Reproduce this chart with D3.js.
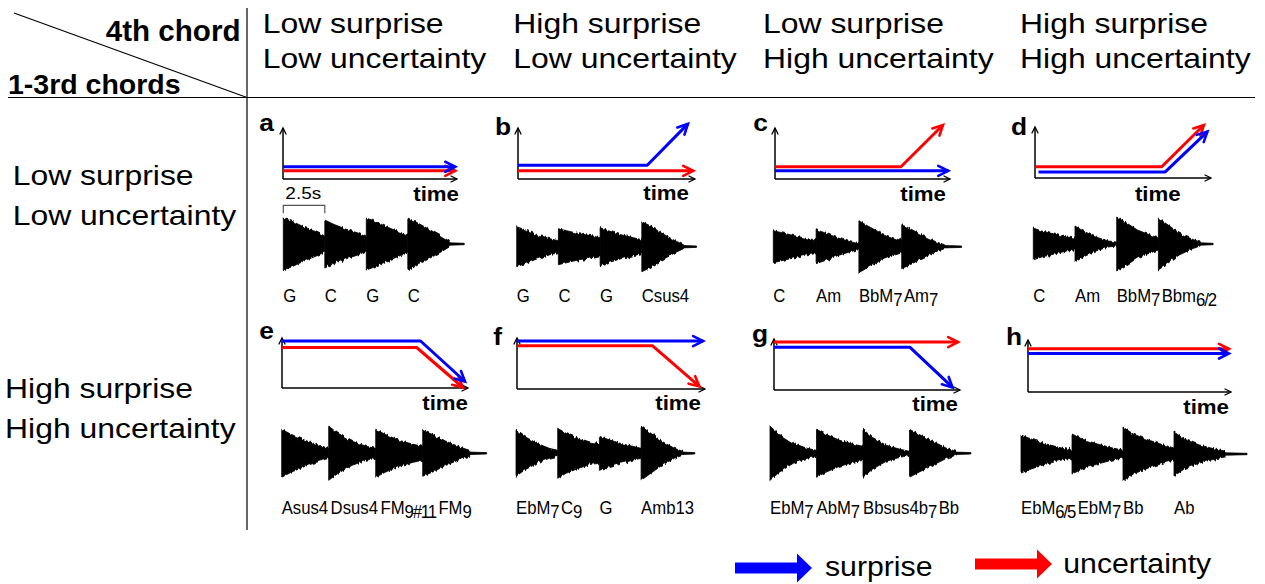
<!DOCTYPE html>
<html><head><meta charset="utf-8">
<script src="https://cdn.jsdelivr.net/npm/d3@7"></script>
<style>
html,body{margin:0;padding:0;background:#fff;}
svg{display:block;font-family:"Liberation Sans",Arial,sans-serif;}
</style></head>
<body><svg id="c" width="1265" height="584"></svg>
<script>
// ================= DATA =================
const panelIds = ["a","b","c","d","e","f","g","h"];
const colHeaders = [["Low surprise","Low uncertainty"],["High surprise","Low uncertainty"],["Low surprise","High uncertainty"],["High surprise","High uncertainty"]];
const rowHeaders = [["Low surprise","Low uncertainty"],["High surprise","High uncertainty"]];
const cornerTop = "4th chord";
const cornerBottom = "1-3rd chords";
const axisLabel = "time";
const chordDuration = 2.5;      // seconds per chord
const bracketLabel = "2.5s";
const legendNames = ["surprise","uncertainty"];

// trajectories: [time fraction of axis, level fraction of axis]
const surprise = [
  [[0,0.24],[0.99,0.24]],
  [[0,0.27],[0.73,0.27],[0.96,1.08]],
  [[0,0.16],[0.99,0.16]],
  [[0.02,0.12],[0.74,0.12],[0.98,0.91]],
  [[0,0.94],[0.745,0.94],[0.984,0.13]],
  [[0,0.94],[0.99,0.94]],
  [[0,0.84],[0.73,0.84],[0.96,0.05]],
  [[0,0.74],[0.99,0.74]]
];
const uncertainty = [
  [[0,0.16],[0.99,0.16]],
  [[0,0.16],[0.99,0.16]],
  [[0,0.24],[0.72,0.24],[0.96,1.06]],
  [[0,0.22],[0.72,0.22],[0.96,1.04]],
  [[0,0.81],[0.724,0.81],[0.973,0.01]],
  [[0,0.85],[0.72,0.85],[0.97,0.05]],
  [[0,0.94],[0.99,0.94]],
  [[0,0.83],[0.99,0.83]]
];

const chordNames = [
  ["G","C","G","C"],
  ["G","C","G","Csus4"],
  ["C","Am","BbM_7","Am_7"],
  ["C","Am","BbM_7","Bbm_6/2"],
  ["Asus4","Dsus4","FM_9#11","FM_9"],
  ["EbM_7","C_9","G","Amb13"],
  ["EbM_7","AbM_7","Bbsus4b_7","Bb"],
  ["EbM_6/5","EbM_7","Bb","Ab"]
];

// waveform envelope (arbitrary amplitude units) sampled at envPos fractions of each chord
const envPos = [0, 0.2, 0.5, 0.8, 1];
const envelopes = [
  [[26,23,17,12,8],[24,20,15,11,7],[26,23,17,12,9],[26,22,15,8,3]],
  [[20,17,12,8,6],[18,16,13,11,9],[19,16,12,9,7],[25,21,13,6,2]],
  [[16,14,11,8,7],[17,14,9,5,3],[26,21,14,9,6],[22,18,11,5,2]],
  [[16,13,10,7,6],[18,13,7,3,2],[27,22,14,9,6],[26,20,11,5,2]],
  [[24,19,13,8,5],[27,20,12,7,5],[24,19,13,9,7],[23,19,12,6,3]],
  [[23,17,10,5,3],[25,20,15,11,10],[17,14,10,7,5],[27,21,12,5,2]],
  [[27,19,10,5,3],[24,19,13,9,7],[24,16,8,4,2],[24,19,12,5,2]],
  [[19,15,10,6,4],[20,15,10,6,4],[27,20,14,9,6],[22,15,9,5,3]]
];
const tailSec = [0.9,0.78,1.0,0.78,0.9,0.72,0.8,1.08];
const tailAmp = [1.2, 0.7];

// ================= LAYOUT =================
const layout = [
  {ax:283, ay:179, ax1:457, atop:128, wx:283.3, wpc:41.5, wy:244,   lx:274,  ly:131, tx:459,   ty:201,   cy:302},
  {ax:518, ay:179, ax1:695, atop:128, wx:516.7, wpc:41.7, wy:246.7, lx:511,  ly:135, tx:689,   ty:200,   cy:302},
  {ax:775, ay:179, ax1:950, atop:128, wx:773.3, wpc:42.8, wy:246.7, lx:768,  ly:131, tx:946,   ty:200.5, cy:302},
  {ax:1035,ay:178, ax1:1211,atop:127, wx:1033.3,wpc:41.7, wy:244,   lx:1027, ly:135, tx:1180.7,ty:200.5, cy:302},
  {ax:282, ay:388, ax1:468, atop:338, wx:281.7, wpc:47,   wy:453.3, lx:274,  ly:339, tx:468,   ty:410,   cy:514},
  {ax:517, ay:389, ax1:705, atop:338, wx:516,   wpc:41.7, wy:453.3, lx:502,  ly:345, tx:701,   ty:410,   cy:514},
  {ax:774, ay:390, ax1:960, atop:339, wx:770,   wpc:46.5, wy:453.3, lx:768,  ly:342, tx:958,   ty:411,   cy:514},
  {ax:1028,ay:392, ax1:1231,atop:340, wx:1021,  wpc:51,   wy:454,   lx:1022, ly:345, tx:1229,  ty:414,   cy:514}
];
const colX = [262.7, 513.3, 763, 1020];
const BLUE = "#0000ff", RED = "#ff0000";

const svg = d3.select("#c");
const defs = svg.append("defs");
function marker(id, color, size, sw){
  defs.append("marker").attr("id", id)
    .attr("viewBox", `0 0 ${size} ${size}`)
    .attr("refX", size - 1).attr("refY", size/2)
    .attr("markerWidth", size).attr("markerHeight", size)
    .attr("markerUnits", "userSpaceOnUse").attr("orient", "auto")
    .style("overflow", "visible")
    .append("path")
    .attr("d", `M1,1 L${size-1},${size/2} L1,${size-1}`)
    .attr("fill", "none").attr("stroke", color).attr("stroke-width", sw)
    .attr("stroke-linecap","round");
}
marker("mb", BLUE, 12, 2.6);
marker("mr", RED, 12, 2.6);
marker("mk", "#000", 8, 1.3);

// rendering texture for the waveform edges (visual only)
const flt = defs.append("filter").attr("id","rough")
  .attr("x","-5%").attr("y","-25%").attr("width","110%").attr("height","150%")
  .attr("color-interpolation-filters","sRGB");
flt.append("feTurbulence").attr("type","fractalNoise").attr("baseFrequency","0.55 0.04")
  .attr("numOctaves",1).attr("seed",7).attr("result","n0");
flt.append("feColorMatrix").attr("in","n0").attr("type","matrix")
  .attr("values","1 0 0 0 0  0 0 0 0 0.5  0 0 0 0 0  0 0 0 0 1").attr("result","n1");
flt.append("feDisplacementMap").attr("in","SourceGraphic").attr("in2","n1")
  .attr("scale",6).attr("xChannelSelector","G").attr("yChannelSelector","R");

function stext(parent, str, x, y, size, sx, opts = {}){
  const t = parent.append("text")
    .attr("transform", `translate(${x},${y}) scale(${sx},1)`)
    .attr("font-size", size)
    .attr("fill", "#000")
    .text(str);
  if (opts.bold) t.attr("font-weight", "bold");
  if (opts.anchor) t.attr("text-anchor", opts.anchor);
  return t;
}

// ---------- table frame ----------
svg.append("line").attr("x1",247).attr("y1",8).attr("x2",247).attr("y2",530).attr("stroke","#000").attr("stroke-width",1.2);
svg.append("line").attr("x1",8).attr("y1",97.5).attr("x2",1255).attr("y2",97.5).attr("stroke","#000").attr("stroke-width",1.2);
svg.append("line").attr("x1",14).attr("y1",13).attr("x2",247).attr("y2",97.5).attr("stroke","#000").attr("stroke-width",1.2);

stext(svg, cornerTop, 240.5, 40.7, 29, 1.02, {bold:true, anchor:"end"});
stext(svg, cornerBottom, 8, 94, 28.5, 1.0, {bold:true});

colHeaders.forEach((h, i) => {
  stext(svg, h[0], colX[i], 33.3, 28.5, 1.12);
  stext(svg, h[1], colX[i], 68.3, 28.5, 1.12);
});
stext(svg, rowHeaders[0][0], 12.7, 185, 28.5, 1.12);
stext(svg, rowHeaders[0][1], 12.7, 225, 28.5, 1.12);
stext(svg, rowHeaders[1][0], 5, 398.3, 28.5, 1.12);
stext(svg, rowHeaders[1][1], 5, 438.3, 28.5, 1.12);

// ---------- panels ----------
panelIds.forEach((id, i) => {
  const L = layout[i];
  const g = svg.append("g");
  const xt = d3.scaleLinear().domain([0,1]).range([L.ax, L.ax1]);
  const yl = d3.scaleLinear().domain([0,1]).range([L.ay, L.atop]);

  // axes
  g.append("path").attr("d", `M${xt(0)},${yl(0)}L${xt(1)},${yl(0)}`)
    .attr("stroke","#000").attr("stroke-width",1.5).attr("fill","none").attr("marker-end","url(#mk)");
  g.append("path").attr("d", `M${xt(0)},${yl(0)}L${xt(0)},${yl(1)}`)
    .attr("stroke","#000").attr("stroke-width",1.5).attr("fill","none").attr("marker-end","url(#mk)");

  const line = d3.line().x(d => xt(d[0])).y(d => yl(d[1]));
  g.append("path").attr("d", line(uncertainty[i])).attr("fill","none")
    .attr("stroke", RED).attr("stroke-width",3).attr("stroke-linejoin","round").attr("marker-end","url(#mr)");
  g.append("path").attr("d", line(surprise[i])).attr("fill","none")
    .attr("stroke", BLUE).attr("stroke-width",3).attr("stroke-linejoin","round").attr("marker-end","url(#mb)");

  // letter + time label
  stext(g, id, L.lx, L.ly, 24, 1.1, {bold:true, anchor:"end"});
  stext(g, axisLabel, L.tx, L.ty, 21, 1.06, {bold:true, anchor:"end"});

  // waveform
  const total = 4 * chordDuration;
  const xw = d3.scaleLinear().domain([0, total]).range([L.wx, L.wx + 4 * L.wpc]);
  const amp = d3.scaleLinear().domain([0, 30]).range([0, 30]);
  const area = d3.area().x(d => xw(d[0])).y0(d => L.wy + amp(d[1])).y1(d => L.wy - amp(d[1]));
  const wg = g.append("g").attr("filter","url(#rough)");
  envelopes[i].forEach((env, k) => {
    const pts = envPos.map((p, j) => [(k + p) * chordDuration, env[j]]);
    wg.append("path").attr("d", area(pts)).attr("fill","#000").attr("stroke","#000").attr("stroke-width",0.8);
  });
  const tail = [[total, tailAmp[0]], [total + tailSec[i], tailAmp[1]]];
  g.append("path").attr("d", area(tail)).attr("fill","#000").attr("stroke","#000").attr("stroke-width",0.8);

  // 2.5 s bracket in panel a
  if (i === 0) {
    const by = 205.3;
    g.append("path").attr("d", `M${xw(0)},${by+8}V${by}H${xw(chordDuration)}V${by+8}`)
      .attr("fill","none").attr("stroke","#555").attr("stroke-width",1.2);
    stext(g, bracketLabel, xw(0) + 2, 199, 17, 1.12);
  }

  // chord labels
  let prevEnd = -Infinity;
  chordNames[i].forEach((name, k) => {
    const sx = 0.88;
    const x = Math.max(xw(k * chordDuration), prevEnd + 2.5);
    const [main, sub] = name.split("_");
    const t = g.append("text").attr("transform", `translate(${x},${L.cy}) scale(${sx},1)`)
      .attr("font-size", 19).attr("fill", "#000");
    t.append("tspan").text(main);
    if (sub) t.append("tspan").attr("dy", 4).attr("letter-spacing", -1.3).text(sub);
    prevEnd = x + t.node().getComputedTextLength() * sx;
  });
});

// ---------- legend ----------
const legendLayout = [
  {x0:735, x1:797, x2:812, cy:568, bh:11, hh:29, tx:825, ty:575.7, color:BLUE},
  {x0:975, x1:1037, x2:1052, cy:564, bh:11, hh:29, tx:1063.3, ty:572.7, color:RED}
];
legendNames.forEach((name, i) => {
  const L = legendLayout[i];
  const pts = [[L.x0, L.cy - L.bh/2],[L.x1, L.cy - L.bh/2],[L.x1, L.cy - L.hh/2],[L.x2, L.cy],
               [L.x1, L.cy + L.hh/2],[L.x1, L.cy + L.bh/2],[L.x0, L.cy + L.bh/2]];
  svg.append("path").attr("d", d3.line()(pts) + "Z").attr("fill", L.color);
  stext(svg, name, L.tx, L.ty, 27, 1.12);
});
</script>
</body></html>
